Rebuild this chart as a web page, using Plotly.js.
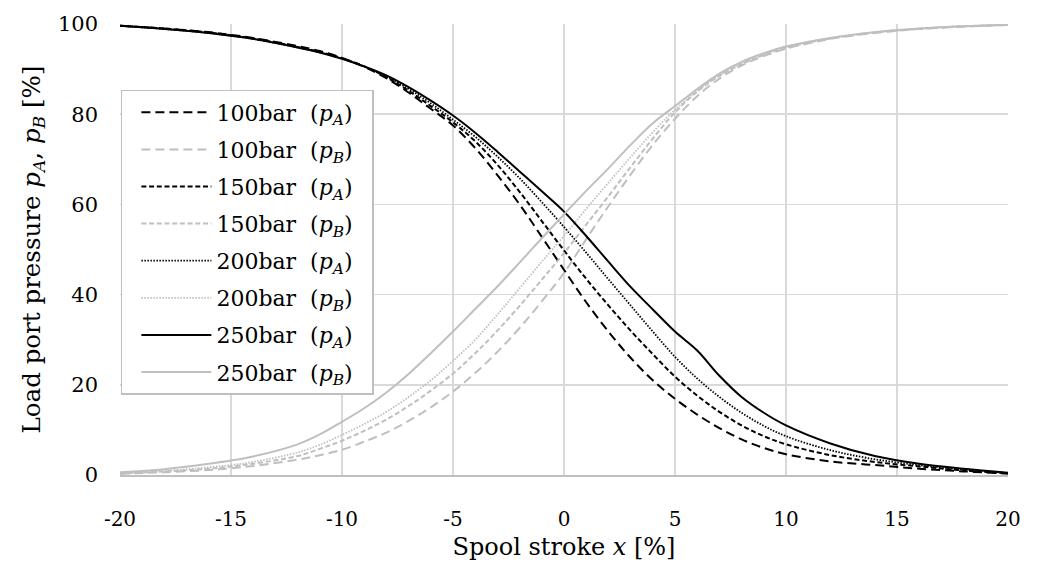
<!DOCTYPE html>
<html>
<head>
<meta charset="utf-8">
<script src="https://cdn.plot.ly/plotly-3.0.1.min.js"></script>
<style>html,body{margin:0;padding:0;background:#fff;}#chart{width:1040px;height:566px;}</style>
</head>
<body>
<div id="chart"></div>
<script>
const xStroke = [-20,-18,-16,-15,-14,-12,-11,-10,-9,-8,-7,-6,-5,-4,-3,-2,-1,0,1,2,3,4,5,6,7,8,9,10,12,14,16,18,20];

const pA100 = [99.6,99.0,98.2,97.6,96.9,95.1,94.0,92.5,90.5,88.0,84.8,81.2,77.5,72.5,66.5,60.0,52.8,45.5,38.3,31.8,26.0,21.0,16.9,13.4,10.4,7.9,6.0,4.6,3.0,2.2,1.4,0.8,0.3];
const pB100 = [0.3,0.6,1.1,1.5,2.0,3.4,4.4,5.6,7.4,9.4,12.0,15.0,18.5,22.6,27.3,32.6,38.5,44.8,52.3,59.6,66.6,73.2,79.0,84.0,87.9,90.8,92.9,94.5,96.7,98.0,98.9,99.4,99.8];
const pA150 = [99.6,99.0,98.1,97.5,96.8,94.9,93.8,92.4,90.6,88.2,85.2,81.8,78.2,74.0,68.8,62.8,56.3,49.8,43.5,37.6,32.0,26.8,21.8,17.6,14.0,11.0,8.6,6.8,4.4,2.9,1.9,1.0,0.4];
const pB150 = [0.3,0.8,1.4,1.9,2.5,4.2,5.8,7.6,9.8,12.3,15.3,18.7,22.5,27.0,32.0,37.5,43.3,49.2,55.5,61.8,68.3,74.6,80.4,85.0,88.5,91.1,93.1,94.7,96.8,98.1,98.9,99.5,99.8];
const pA200 = [99.6,98.9,98.0,97.4,96.7,94.8,93.7,92.3,90.6,88.4,85.6,82.4,78.8,75.0,70.6,65.8,60.5,55.0,49.3,43.4,37.6,31.8,26.2,21.4,17.3,13.8,10.9,8.6,5.5,3.5,2.2,1.2,0.4];
const pB200 = [0.4,0.9,1.7,2.2,2.9,5.0,6.7,8.9,11.3,14.0,17.3,21.0,25.3,30.0,35.6,41.4,47.3,53.0,59.0,64.8,70.5,76.0,81.0,85.2,88.6,91.3,93.3,94.9,96.9,98.2,99.0,99.5,99.8];
const pA250 = [99.6,98.9,98.0,97.4,96.7,94.8,93.7,92.3,90.6,88.6,86.0,83.0,79.7,75.9,71.7,67.3,62.9,58.4,53.0,47.3,41.7,36.7,31.8,27.6,22.0,17.3,13.8,11.0,7.0,4.2,2.5,1.4,0.5];
const pB250 = [0.6,1.3,2.5,3.2,4.1,6.8,9.0,11.8,14.8,18.3,22.4,27.0,31.8,36.8,41.8,47.1,52.5,57.8,63.0,68.0,73.2,78.0,81.8,85.6,89.0,91.6,93.5,95.0,96.9,98.2,99.0,99.5,99.8];

const xTickVals = [-20,-15,-10,-5,0,5,10,15,20];
const xTickText = ['-20','-15','-10','-5','0','5','10','15','20'];
const yTickVals = [0,20,40,60,80,100];
const yTickText = ['0','20','40','60','80','100'];

const seriesNames = [
  "100bar\u00A0\u00A0(<i>p<sub>A</sub></i>)\u00A0\u00A0",
  "100bar\u00A0\u00A0(<i>p<sub>B</sub></i>)\u00A0\u00A0",
  "150bar\u00A0\u00A0(<i>p<sub>A</sub></i>)\u00A0\u00A0",
  "150bar\u00A0\u00A0(<i>p<sub>B</sub></i>)\u00A0\u00A0",
  "200bar\u00A0\u00A0(<i>p<sub>A</sub></i>)\u00A0\u00A0",
  "200bar\u00A0\u00A0(<i>p<sub>B</sub></i>)\u00A0\u00A0",
  "250bar\u00A0\u00A0(<i>p<sub>A</sub></i>)\u00A0\u00A0",
  "250bar\u00A0\u00A0(<i>p<sub>B</sub></i>)\u00A0\u00A0"
];
const seriesValues = [pA100, pB100, pA150, pB150, pA200, pB200, pA250, pB250];

const BLACK = '#000000', GRAY = '#bfbfbf';
const styles = [
  {color: BLACK, dash: '9px,5px', width: 2},
  {color: GRAY,  dash: '9px,5px', width: 2},
  {color: BLACK, dash: '5px,2.7px', width: 2},
  {color: GRAY,  dash: '5px,2.7px', width: 2},
  {color: BLACK, dash: '1.5px,1.5px', width: 1.8},
  {color: GRAY,  dash: '1.5px,1.5px', width: 1.8},
  {color: BLACK, dash: 'solid', width: 2},
  {color: GRAY,  dash: 'solid', width: 2}
];

const traces = seriesValues.map((vals, i) => ({
  type: 'scatter',
  mode: 'lines',
  x: xStroke,
  y: vals,
  name: seriesNames[i],
  legendgroup: 'g' + i,
  line: {color: styles[i].color, dash: styles[i].dash, width: styles[i].width, shape: 'spline', smoothing: 1}
}));

const layout = {
  width: 1040,
  height: 566,
  margin: {l: 120, r: 32, t: 24, b: 91, pad: 0},
  paper_bgcolor: '#ffffff',
  plot_bgcolor: '#ffffff',
  font: {family: 'DejaVu Serif', color: '#000000', size: 20},
  showlegend: true,
  xaxis: {
    range: [-20, 20],
    tickmode: 'array',
    tickvals: xTickVals,
    ticktext: xTickText,
    showgrid: true,
    gridcolor: '#d9d9d9',
    gridwidth: 1.5,
    zeroline: false,
    showline: true,
    linecolor: '#bfbfbf',
    linewidth: 1.5,
    ticks: '',
    ticklabelstandoff: 25,
    tickfont: {size: 20, family: 'DejaVu Serif'},
    title: {text: 'Spool stroke <i>x</i> [%]', font: {size: 24, family: 'DejaVu Serif'}, standoff: 8}
  },
  yaxis: {
    range: [0, 100],
    tickmode: 'array',
    tickvals: yTickVals,
    ticktext: yTickText,
    showgrid: true,
    gridcolor: '#d9d9d9',
    gridwidth: 1.5,
    zeroline: false,
    showline: false,
    ticks: '',
    ticklabelstandoff: 21,
    tickfont: {size: 21, family: 'DejaVu Serif'},
    title: {text: 'Load port pressure <i>p<sub>A</sub></i>, <i>p<sub>B</sub></i> [%]', font: {size: 24.5, family: 'DejaVu Serif'}, standoff: 10}
  },
  legend: {
    x: 0.001,
    y: 0.8537,
    xanchor: 'left',
    yanchor: 'top',
    bgcolor: '#ffffff',
    bordercolor: '#bfbfbf',
    borderwidth: 1.5,
    font: {size: 22, family: 'DejaVu Serif', color: '#000000'},
    itemwidth: 70,
    indentation: 14,
    tracegroupgap: 5.5,
    traceorder: 'grouped'
  }
};

Plotly.newPlot('chart', traces, layout, {displayModeBar: false, staticPlot: true});
</script>
</body>
</html>
